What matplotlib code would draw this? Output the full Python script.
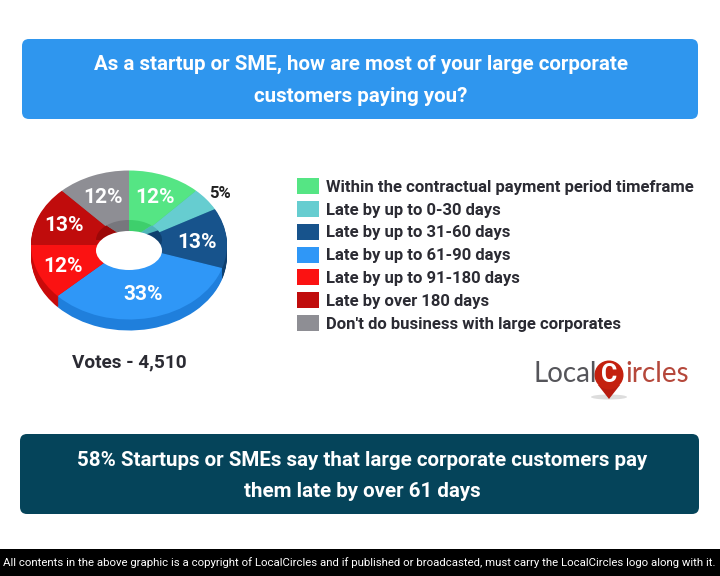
import math

import matplotlib
matplotlib.use("Agg")
import matplotlib.pyplot as plt
from matplotlib.patches import Ellipse, FancyBboxPatch, Polygon, Rectangle

plt.rcParams["font.family"] = ["Roboto", "DejaVu Sans"]

categories = [
    "Within the contractual payment period timeframe",
    "Late by up to 0-30 days",
    "Late by up to 31-60 days",
    "Late by up to 61-90 days",
    "Late by up to 91-180 days",
    "Late by over 180 days",
    "Don't do business with large corporates",
]
values = [12, 5, 13, 33, 12, 13, 12]
top_colors = ["#55e584", "#66cdd0", "#17538c", "#2f97f7", "#fb1212", "#c00c0c", "#8e8e94"]
side_colors = ["#3ecf6c", "#4fb5b8", "#0f3f6e", "#1f7fdc", "#c90a0a", "#9c0808", "#77777d"]

title_lines = ["As a startup or SME, how are most of your large corporate", "customers paying you?"]
takeaway_lines = ["58% Startups or SMEs say that large corporate customers pay", "them late by over 61 days"]
votes_label = "Votes - 4,510"
footer = ("All contents in the above graphic is a copyright of LocalCircles and if published "
          "or broadcasted, must carry the LocalCircles logo along with it.")

W, H = 720, 576
CX, CY, RX, RY = 129, 245, 98, 74.5
DEPTH = 11


def pie_axes(cx, cy, rx, ry, zorder):
    """Full-figure axes where one data unit is rx px across and ry px down."""
    pie_ax = fig.add_axes([0, 0, 1, 1], zorder=zorder)
    pie_ax.patch.set_visible(False)
    return pie_ax, (-cx / rx, (W - cx) / rx), (-(H - cy) / ry, cy / ry)


def finish_pie(pie_ax, xlim, ylim):
    pie_ax.set_aspect("auto")
    pie_ax.set_xlim(*xlim)
    pie_ax.set_ylim(*ylim)
    pie_ax.axis("off")


fig = plt.figure(figsize=(W / 100, H / 100), dpi=100, facecolor="white")

# extruded body, then the top face
body_ax, xlim, ylim = pie_axes(CX, CY, RX, RY, 1)
for offset in range(DEPTH, 0, -1):
    body_ax.pie(values, colors=side_colors, startangle=90, counterclock=False,
                center=(0, -offset / RY), radius=1)
wedges, _ = body_ax.pie(values, colors=top_colors, startangle=90, counterclock=False,
                        center=(0, 0), radius=1)
finish_pie(body_ax, xlim, ylim)

# inner wall of the hole, only its upper edge stays visible
wall_ax, xlim, ylim = pie_axes(129, 240, 33, 20, 2)
wall_ax.pie(values, colors=side_colors, startangle=90, counterclock=False, radius=1)
finish_pie(wall_ax, xlim, ylim)

ax = fig.add_axes([0, 0, 1, 1], zorder=3)
ax.patch.set_visible(False)
ax.set_xlim(0, W)
ax.set_ylim(H, 0)
ax.axis("off")
ax.add_patch(Ellipse((129, 250.5), 66, 39, color="white", lw=0))

# percent labels sit at the mid angle of each slice
label_r = [0.72, 1.17, 0.70, 0.65, 0.72, 0.72, 0.72]
for wedge, value, r in zip(wedges, values, label_r):
    mid = (wedge.theta1 + wedge.theta2) / 2
    px = CX + r * RX * math.cos(math.radians(mid))
    py = CY + 2 - r * RY * math.sin(math.radians(mid))
    small = value == 5
    ax.text(px, py, f"{value}%", ha="center", va="center", fontweight="bold",
            fontsize=12 if small else 15, color="#222222" if small else "white")

ax.text(129.5, 362, votes_label, ha="center", va="center", fontsize=13.7,
        fontweight="bold", color="#2b2b33")

# legend
for i, (name, color) in enumerate(zip(categories, top_colors)):
    y = 186.2 + i * 22.8
    ax.add_patch(Rectangle((297, y - 8), 22, 16, color=color, lw=0))
    ax.text(326, y + 1, name, ha="left", va="center", fontsize=12, fontweight="bold", color="#2b2b33")

# header and takeaway boxes
ax.add_patch(FancyBboxPatch((22, 39), 676, 80, boxstyle="round,pad=0,rounding_size=7",
                            lw=0, fc="#2f96ee"))
ax.add_patch(FancyBboxPatch((20, 434), 679, 80, boxstyle="round,pad=0,rounding_size=7",
                            lw=0, fc="#05445a"))
for line, y in zip(title_lines, [64.5, 96.5]):
    ax.text(360.5, y, line, ha="center", va="center", fontsize=14.75, fontweight="bold", color="white")
for line, y in zip(takeaway_lines, [461, 491.5]):
    ax.text(362, y, line, ha="center", va="center", fontsize=14.8, fontweight="bold", color="white")

# footer
ax.add_patch(Rectangle((0, 549), W, 27, color="black", lw=0))
ax.text(359.5, 562.5, footer, ha="center", va="center", fontsize=8.22, color="white")

# logo
ax.text(534, 374, "Local", ha="left", va="center", fontsize=20, color="#55555a", family="Lato")
ax.text(625.5, 374, "ircles", ha="left", va="center", fontsize=20, color="#b5483b", family="Lato")
ax.add_patch(Ellipse((609, 397), 36, 5, color="#dddddd", lw=0))
ax.add_patch(Polygon([[598, 385], [620, 385], [609, 399]], closed=True, color="#b81c10", lw=0))
ax.add_patch(Ellipse((609, 375), 29, 29, color="#c4210f", lw=0))
ax.text(609, 375, "C", ha="center", va="center", fontsize=18, fontweight="bold", color="white")

fig.savefig("out.png", dpi=100)
